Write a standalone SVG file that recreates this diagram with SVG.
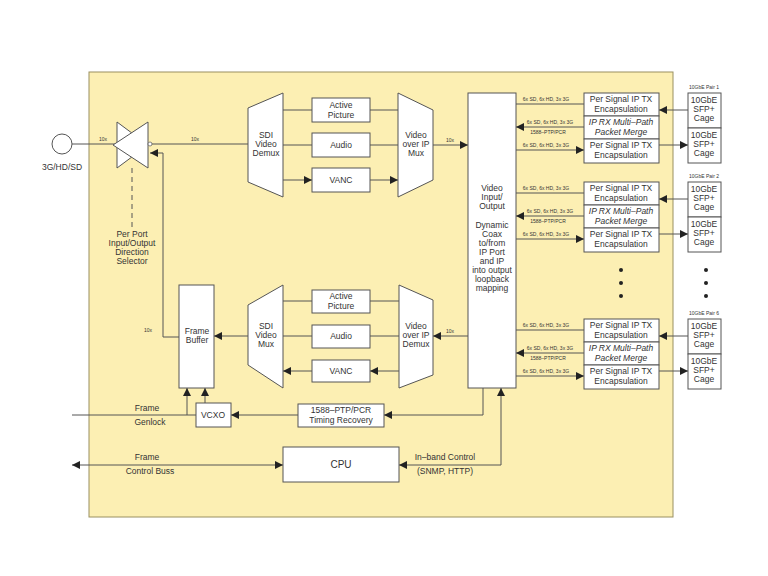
<svg xmlns="http://www.w3.org/2000/svg" width="768" height="576" viewBox="0 0 768 576">
<style>
text{font-family:"Liberation Sans",Arial,sans-serif;font-size:8.5px;fill:#333;text-anchor:middle}
.s{font-size:5px}
.i{font-style:italic}
.b{fill:#fff;stroke:#555;stroke-width:1}
.l{fill:none;stroke:#555;stroke-width:1}
</style>
<defs>
<marker id="a" viewBox="0 0 10 10" refX="10" refY="5" markerWidth="8" markerHeight="8" markerUnits="userSpaceOnUse" orient="auto-start-reverse"><path d="M0,0L10,5L0,10z" fill="#222"/></marker>
</defs>
<rect x="89" y="72" width="584" height="445" fill="#fcefb3" stroke="#9a9060" stroke-width="1"/>
<g id="connectors">
<path class="l" d="M72,144H115M148,144H248"/>
<path class="l" d="M132,168V228" stroke-dasharray="5,4"/>
<path class="l" d="M179,337H163V153H150" marker-end="url(#a)"/>
<path class="l" d="M283,110H312M283,145H312M283,180H312" marker-end="url(#a)"/>
<path class="l" d="M370,110H398M370,145H398M370,180H398" marker-end="url(#a)"/>
<path class="l" d="M433,145H468" marker-end="url(#a)"/>
<path class="l" d="M399,301H370M399,336H370M399,371H370" marker-end="url(#a)"/>
<path class="l" d="M312,301H283M312,336H283M312,371H283" marker-end="url(#a)"/>
<path class="l" d="M468,336H433" marker-end="url(#a)"/>
<path class="l" d="M248,336H214" marker-end="url(#a)"/>
<path class="l" d="M72,415H196"/>
<path class="l" d="M187,415V388" marker-end="url(#a)"/>
<path class="l" d="M205,403V388" marker-end="url(#a)"/>
<path class="l" d="M483,388V415H384" marker-end="url(#a)"/>
<path class="l" d="M298,415H231" marker-end="url(#a)"/>
<path class="l" d="M72,465H283" marker-start="url(#a)" marker-end="url(#a)"/>
<path class="l" d="M501,465V388" marker-end="url(#a)"/>
<path class="l" d="M501,465H399" marker-end="url(#a)"/>
<g id="grp-conn-1">
<path class="l" d="M516,104H584M516,150H584" marker-end="url(#a)"/>
<path class="l" d="M584,127H516" marker-end="url(#a)"/>
<path class="l" d="M659,110H688M659,145H688" marker-start="url(#a)" marker-end="url(#a)"/>
</g>
<g transform="translate(0,89)">
<path class="l" d="M516,104H584M516,150H584" marker-end="url(#a)"/>
<path class="l" d="M584,127H516" marker-end="url(#a)"/>
<path class="l" d="M659,110H688M659,145H688" marker-start="url(#a)" marker-end="url(#a)"/>
</g>
<g transform="translate(0,226)">
<path class="l" d="M516,104H584M516,150H584" marker-end="url(#a)"/>
<path class="l" d="M584,127H516" marker-end="url(#a)"/>
<path class="l" d="M659,110H688M659,145H688" marker-start="url(#a)" marker-end="url(#a)"/>
</g>
</g>
<g id="port"><circle cx="62" cy="144" r="10" fill="#fff" stroke="#555"/><text x="62" y="170">3G/HD/SD</text></g>
<text class="s" x="103" y="141">10x</text>
<text class="s" x="195" y="141">10x</text>
<text class="s" x="450" y="142">10x</text>
<text class="s" x="450" y="333">10x</text>
<text class="s" x="148" y="332">10x</text>
<g id="selector">
<path class="b" d="M117,122L148,145L117,168z"/>
<path class="b" d="M148,122L113,145L148,168z"/>
<circle cx="150" cy="144" r="2" fill="#fff" stroke="#555" stroke-width="0.7"/>
<text x="132" y="237">Per Port</text><text x="132" y="246">Input/Output</text><text x="132" y="255">Direction</text><text x="132" y="264">Selector</text>
</g>
<g id="sdi-demux"><path class="b" d="M248,108L283,93V197L248,182z"/><text x="266" y="138">SDI</text><text x="266" y="147">Video</text><text x="266" y="156">Demux</text></g>
<g id="tx-active"><rect class="b" x="312" y="98" width="58" height="24"/><text x="341" y="108">Active</text><text x="341" y="118">Picture</text></g>
<g id="tx-audio"><rect class="b" x="312" y="133" width="58" height="24"/><text x="341" y="148">Audio</text></g>
<g id="tx-vanc"><rect class="b" x="312" y="168" width="58" height="24"/><text x="341" y="183">VANC</text></g>
<g id="ip-mux"><path class="b" d="M398,93L433,110V180L398,197z"/><text x="416" y="138">Video</text><text x="416" y="147">over IP</text><text x="416" y="156">Mux</text></g>
<g id="vio"><rect class="b" x="468" y="93" width="48" height="295"/>
<text x="492" y="191">Video</text><text x="492" y="200">Input/</text><text x="492" y="209">Output</text>
<text x="492" y="228">Dynamic</text><text x="492" y="237">Coax</text><text x="492" y="246">to/from</text><text x="492" y="255">IP Port</text><text x="492" y="264">and IP</text><text x="492" y="273">into output</text><text x="492" y="282">loopback</text><text x="492" y="291">mapping</text></g>
<g id="sdi-mux"><path class="b" d="M248,305L283,285V388L248,365z"/><text x="266" y="329">SDI</text><text x="266" y="338">Video</text><text x="266" y="347">Mux</text></g>
<g id="rx-active"><rect class="b" x="312" y="290" width="58" height="23"/><text x="341" y="299">Active</text><text x="341" y="309">Picture</text></g>
<g id="rx-audio"><rect class="b" x="312" y="325" width="58" height="23"/><text x="341" y="339">Audio</text></g>
<g id="rx-vanc"><rect class="b" x="312" y="360" width="58" height="22"/><text x="341" y="374">VANC</text></g>
<g id="ip-demux"><path class="b" d="M399,285L433,300V375L399,388z"/><text x="416" y="329">Video</text><text x="416" y="338">over IP</text><text x="416" y="347">Demux</text></g>
<g id="frame-buffer"><rect class="b" x="179" y="285" width="35" height="103"/><text x="197" y="334">Frame</text><text x="197" y="343">Buffer</text></g>
<g id="vcxo"><rect class="b" x="196" y="403" width="35" height="24"/><text x="213" y="418">VCXO</text></g>
<g id="ptp"><rect class="b" x="298" y="404" width="86" height="23"/><text x="341" y="413">1588–PTP/PCR</text><text x="341" y="423">Timing Recovery</text></g>
<g id="cpu"><rect class="b" x="283" y="447" width="116" height="35"/><text x="341" y="468" style="font-size:10px">CPU</text></g>
<text x="147" y="411">Frame</text><text x="150" y="425">Genlock</text>
<text x="147" y="460">Frame</text><text x="150" y="474">Control Buss</text>
<text x="445" y="460">In–band Control</text><text x="445" y="474">(SNMP, HTTP)</text>
<g id="pair1">
<g class="s"><text class="s" x="546" y="101">6x SD, 6x HD, 3x 3G</text><text class="s" x="550" y="124">6x SD, 6x HD, 3x 3G</text><text class="s" x="548" y="134">1588–PTP/PCR</text><text class="s" x="546" y="147">6x SD, 6x HD, 3x 3G</text></g>
<rect class="b" x="584" y="93" width="75" height="23"/><text x="621" y="102">Per Signal IP TX</text><text x="621" y="112">Encapsulation</text>
<rect class="b" x="584" y="116" width="75" height="23"/><text class="i" x="621" y="125">IP RX Multi–Path</text><text class="i" x="621" y="135">Packet Merge</text>
<rect class="b" x="584" y="139" width="75" height="24"/><text x="621" y="148">Per Signal IP TX</text><text x="621" y="158">Encapsulation</text>
<rect class="b" x="688" y="93" width="33" height="35"/><text x="704" y="103">10GbE</text><text x="704" y="112">SFP+</text><text x="704" y="121">Cage</text>
<rect class="b" x="688" y="128" width="33" height="35"/><text x="704" y="138">10GbE</text><text x="704" y="147">SFP+</text><text x="704" y="156">Cage</text>
<text class="s" x="704" y="89">10GbE Pair 1</text>
</g>
<g id="pair2" transform="translate(0,89)">
<text class="s" x="546" y="101">6x SD, 6x HD, 3x 3G</text><text class="s" x="550" y="124">6x SD, 6x HD, 3x 3G</text><text class="s" x="548" y="134">1588–PTP/PCR</text><text class="s" x="546" y="147">6x SD, 6x HD, 3x 3G</text>
<rect class="b" x="584" y="93" width="75" height="23"/><text x="621" y="102">Per Signal IP TX</text><text x="621" y="112">Encapsulation</text>
<rect class="b" x="584" y="116" width="75" height="23"/><text class="i" x="621" y="125">IP RX Multi–Path</text><text class="i" x="621" y="135">Packet Merge</text>
<rect class="b" x="584" y="139" width="75" height="24"/><text x="621" y="148">Per Signal IP TX</text><text x="621" y="158">Encapsulation</text>
<rect class="b" x="688" y="93" width="33" height="35"/><text x="704" y="103">10GbE</text><text x="704" y="112">SFP+</text><text x="704" y="121">Cage</text>
<rect class="b" x="688" y="128" width="33" height="35"/><text x="704" y="138">10GbE</text><text x="704" y="147">SFP+</text><text x="704" y="156">Cage</text>
<text class="s" x="704" y="89">10GbE Pair 2</text>
</g>
<g id="pair6" transform="translate(0,226)">
<text class="s" x="546" y="101">6x SD, 6x HD, 3x 3G</text><text class="s" x="550" y="124">6x SD, 6x HD, 3x 3G</text><text class="s" x="548" y="134">1588–PTP/PCR</text><text class="s" x="546" y="147">6x SD, 6x HD, 3x 3G</text>
<rect class="b" x="584" y="93" width="75" height="23"/><text x="621" y="102">Per Signal IP TX</text><text x="621" y="112">Encapsulation</text>
<rect class="b" x="584" y="116" width="75" height="23"/><text class="i" x="621" y="125">IP RX Multi–Path</text><text class="i" x="621" y="135">Packet Merge</text>
<rect class="b" x="584" y="139" width="75" height="24"/><text x="621" y="148">Per Signal IP TX</text><text x="621" y="158">Encapsulation</text>
<rect class="b" x="688" y="93" width="33" height="35"/><text x="704" y="103">10GbE</text><text x="704" y="112">SFP+</text><text x="704" y="121">Cage</text>
<rect class="b" x="688" y="128" width="33" height="35"/><text x="704" y="138">10GbE</text><text x="704" y="147">SFP+</text><text x="704" y="156">Cage</text>
<text class="s" x="704" y="89">10GbE Pair 6</text>
</g>
<g id="dots" fill="#222"><circle cx="621" cy="270" r="2"/><circle cx="621" cy="283" r="2"/><circle cx="621" cy="296" r="2"/><circle cx="706" cy="270" r="2"/><circle cx="706" cy="283" r="2"/><circle cx="706" cy="296" r="2"/></g>
</svg>
